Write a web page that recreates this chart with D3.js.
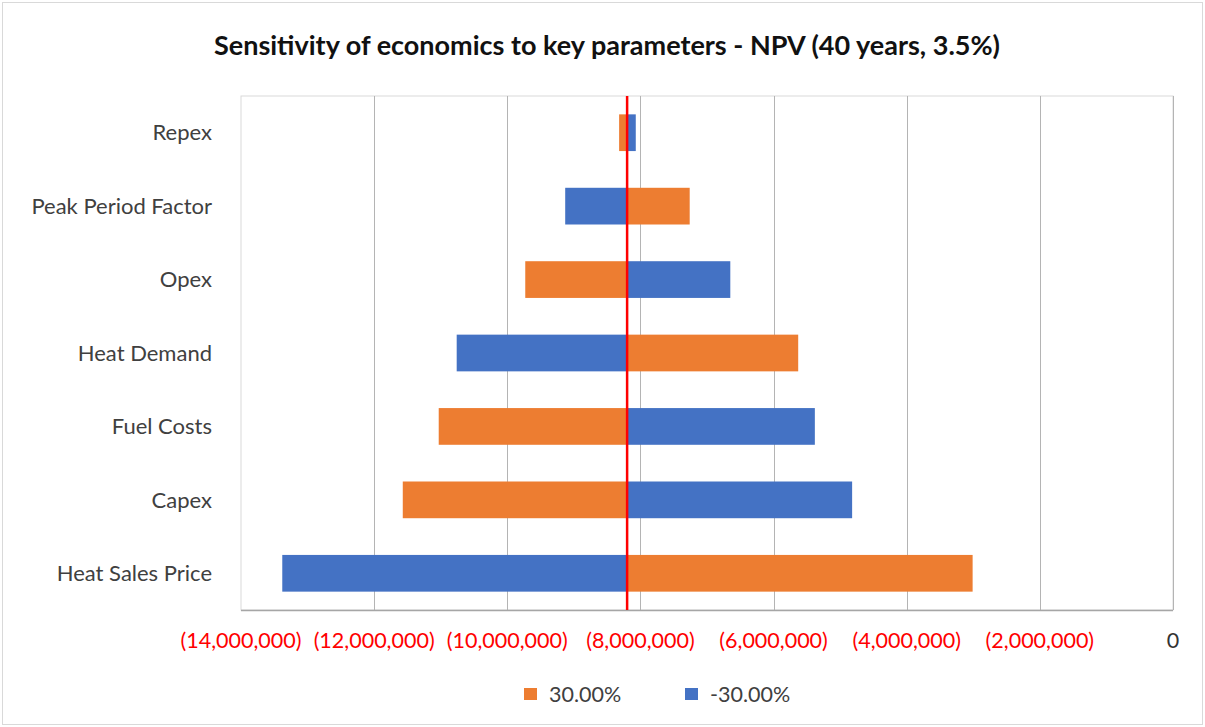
<!DOCTYPE html>
<html>
<head>
<meta charset="utf-8">
<script src="https://cdn.jsdelivr.net/npm/d3@7/dist/d3.min.js"></script>
<style>
  html, body { margin: 0; padding: 0; background: #fff; }
  svg { display: block; }
</style>
</head>
<body>
<script>
// Tornado chart: NPV under +30% / -30% changes to each key parameter
const categories = ["Repex", "Peak Period Factor", "Opex", "Heat Demand", "Fuel Costs", "Capex", "Heat Sales Price"];
const plus30 = [-8320000, -7260000, -9730000, -5630000, -11030000, -11570000, -3010000];
const minus30 = [-8070000, -9130000, -6650000, -10760000, -5380000, -4820000, -13380000];
const baseNPV = -8200000;
const tickValues = [-14000000, -12000000, -10000000, -8000000, -6000000, -4000000, -2000000, 0];
const seriesNames = ["30.00%", "-30.00%"];
const seriesColors = ["#ED7D31", "#4472C4"];

const W = 1205, H = 727;
const margin = { left: 241, right: 32, top: 96, bottom: 117 };
const font = "Lato, 'Open Sans', sans-serif";

const svg = d3.select("body").append("svg").attr("width", W).attr("height", H);

// outer chart frame
svg.append("rect").attr("x", 2.5).attr("y", 2.5).attr("width", W - 5).attr("height", H - 5)
  .attr("fill", "#fff").attr("stroke", "#d9d9d9").attr("stroke-width", 1);

const x = d3.scaleLinear().domain([-14000000, 0]).range([margin.left, W - margin.right]);
const y = d3.scaleBand().domain(categories).range([margin.top, H - margin.bottom]).paddingInner(0.5).paddingOuter(0.25);

// plot area border
svg.append("rect").attr("x", margin.left).attr("y", margin.top)
  .attr("width", W - margin.right - margin.left).attr("height", H - margin.bottom - margin.top)
  .attr("fill", "none").attr("stroke", "#d9d9d9").attr("stroke-width", 1);

// vertical gridlines
svg.append("g").selectAll("line").data(tickValues.slice(1)).join("line")
  .attr("x1", d => Math.round(x(d)) + 0.5).attr("x2", d => Math.round(x(d)) + 0.5)
  .attr("y1", margin.top).attr("y2", H - margin.bottom)
  .attr("stroke", "#b4b4b4").attr("stroke-width", 1);

// bottom axis line
svg.append("line").attr("x1", margin.left).attr("x2", W - margin.right)
  .attr("y1", H - margin.bottom + 0.5).attr("y2", H - margin.bottom + 0.5)
  .attr("stroke", "#a6a6a6").attr("stroke-width", 1.5);

// bars for each series, drawn from the base case value
const series = [plus30, minus30];
series.forEach((vals, si) => {
  svg.append("g").selectAll("rect").data(categories).join("rect")
    .attr("x", (c, i) => x(Math.min(baseNPV, vals[i])))
    .attr("width", (c, i) => Math.abs(x(vals[i]) - x(baseNPV)))
    .attr("y", c => y(c))
    .attr("height", y.bandwidth())
    .attr("fill", seriesColors[si]);
});

// base case marker
svg.append("line").attr("x1", x(baseNPV)).attr("x2", x(baseNPV))
  .attr("y1", margin.top).attr("y2", H - margin.bottom)
  .attr("stroke", "#ff0000").attr("stroke-width", 2.5);

// x tick labels: negative values in red with parentheses
const fmt = d3.format(",");
svg.append("g").selectAll("text").data(tickValues).join("text")
  .attr("x", d => x(d)).attr("y", 640)
  .attr("dy", "0.35em")
  .attr("text-anchor", "middle")
  .attr("font-family", font).attr("font-size", 21.5)
  .attr("fill", d => d < 0 ? "#ff0000" : "#333")
  .text(d => d < 0 ? "(" + fmt(-d) + ")" : fmt(d));

// category labels
svg.append("g").selectAll("text").data(categories).join("text")
  .attr("x", 212).attr("y", c => y(c) + y.bandwidth() / 2)
  .attr("dy", "0.35em")
  .attr("text-anchor", "end")
  .attr("font-family", font).attr("font-size", 22)
  .attr("fill", "#404040")
  .text(c => c);

// title
svg.append("text").attr("x", 607).attr("y", 55)
  .attr("text-anchor", "middle")
  .attr("font-family", font).attr("font-size", 27).attr("font-weight", "bold")
  .attr("fill", "#111")
  .text("Sensitivity of economics to key parameters - NPV (40 years, 3.5%)");

// legend
const legendX = [524, 685];
const lg = svg.append("g").selectAll("g").data(seriesNames).join("g")
  .attr("transform", (d, i) => `translate(${legendX[i]},688)`);
lg.append("rect").attr("width", 13).attr("height", 12).attr("fill", (d, i) => seriesColors[i]);
lg.append("text").attr("x", 25).attr("y", 6).attr("dy", "0.35em")
  .attr("font-family", font).attr("font-size", 21.5).attr("fill", "#404040")
  .text(d => d);
</script>
</body>
</html>
